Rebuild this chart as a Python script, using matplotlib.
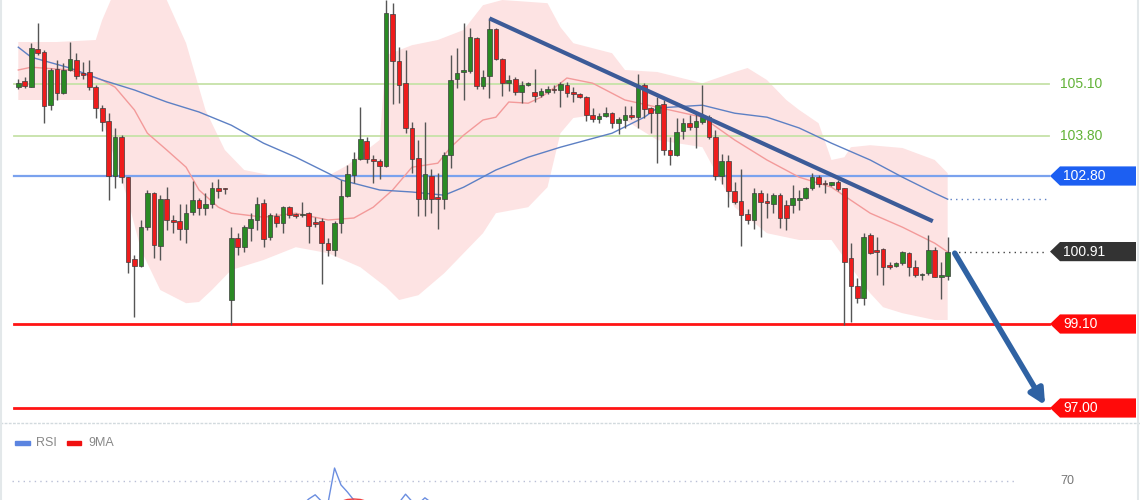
import matplotlib.pyplot as plt
import numpy as np
from matplotlib.lines import Line2D
from matplotlib.patches import Polygon, Rectangle
from matplotlib.transforms import blended_transform_factory

plt.rcParams['font.family'] = ['Liberation Sans', 'DejaVu Sans']

# candles, oldest first
opens = [105.03, 105.18, 105.03, 105.97, 105.91, 104.57, 105.47, 104.88, 105.45, 105.70,
         105.38, 105.41, 105.02, 104.49, 104.18, 102.80, 103.78, 102.77, 100.72, 100.55,
         101.53, 102.38, 101.05, 102.22, 101.70, 101.68, 101.47, 101.91, 102.20, 101.99,
         102.10, 102.49, 102.49, 99.70, 101.24, 101.03, 101.49, 101.70, 102.12, 101.27,
         101.80, 101.62, 102.02, 101.83, 101.82, 101.87, 101.66, 101.68, 101.12, 100.95,
         101.63, 102.30, 102.83, 103.22, 103.68, 103.20, 103.17, 103.05, 106.85, 105.68,
         105.12, 103.99, 103.24, 102.22, 102.80, 102.28, 102.22, 103.33, 105.22, 105.40,
         105.43, 106.24, 105.05, 105.30, 106.47, 105.72, 105.12, 105.22, 104.91, 105.07,
         104.91, 104.83, 104.91, 104.95, 104.95, 105.07, 104.87, 104.85, 104.78, 104.32,
         104.22, 104.30, 104.37, 104.12, 104.20, 104.33, 104.28, 105.07, 104.49, 104.38,
         104.60, 103.45, 103.33, 103.93, 104.13, 104.02, 104.16, 104.28, 103.78, 102.80,
         103.18, 102.43, 102.18, 101.85, 101.70, 102.38, 102.16, 102.10, 102.33, 102.08,
         102.08, 102.20, 102.24, 102.49, 102.78, 102.62, 102.58, 102.66, 102.49, 100.74,
         100.05, 99.74, 101.32, 100.93, 100.97, 100.57, 100.55, 100.62, 100.87, 100.52,
         100.32, 100.37, 100.95, 100.28, 100.30]
highs = [105.22, 105.27, 106.12, 106.63, 105.95, 105.49, 105.70, 105.62, 106.16, 105.87,
         105.66, 105.70, 105.07, 104.58, 104.37, 103.99, 103.82, 102.78, 100.82, 101.70,
         102.45, 102.41, 102.32, 102.53, 101.83, 102.10, 102.10, 102.67, 102.24, 102.38,
         102.66, 102.72, 102.50, 101.53, 101.37, 101.58, 101.87, 102.28, 102.22, 101.87,
         101.87, 102.05, 102.05, 101.88, 102.16, 101.91, 101.78, 101.74, 101.24, 101.68,
         102.70, 103.07, 103.41, 104.52, 103.78, 103.32, 103.22, 107.20, 107.12, 106.03,
         105.95, 104.16, 103.70, 104.16, 102.97, 102.87, 103.41, 105.83, 105.99, 106.62,
         106.49, 106.28, 105.45, 106.74, 106.49, 105.74, 105.33, 105.27, 105.18, 105.16,
         105.47, 104.99, 105.05, 105.07, 105.16, 105.16, 105.02, 104.87, 104.80, 104.49,
         104.37, 104.52, 104.41, 104.27, 104.55, 104.55, 105.35, 105.12, 104.53, 104.78,
         104.70, 103.78, 104.24, 104.24, 104.32, 104.37, 105.07, 104.32, 103.95, 103.35,
         103.33, 102.66, 102.97, 101.97, 102.49, 102.45, 102.37, 102.38, 102.37, 102.20,
         102.58, 102.45, 102.53, 102.88, 102.83, 102.70, 102.66, 102.70, 102.49, 101.12,
         100.24, 101.37, 101.37, 101.27, 100.99, 100.66, 100.66, 100.93, 100.91, 100.70,
         100.38, 101.32, 101.03, 100.66, 101.27]
lows = [104.97, 104.99, 105.02, 105.82, 104.12, 104.45, 104.70, 104.85, 105.43, 105.22,
        105.22, 104.95, 104.24, 103.93, 102.20, 102.49, 102.63, 100.38, 99.28, 100.53,
        101.45, 100.74, 100.70, 101.45, 101.37, 101.20, 101.13, 101.83, 101.83, 101.83,
        101.99, 102.24, 102.35, 99.08, 100.82, 100.91, 101.18, 101.45, 101.03, 101.20,
        101.53, 101.37, 101.74, 101.74, 101.78, 101.12, 101.53, 100.10, 100.80, 100.80,
        101.37, 102.28, 102.62, 103.20, 103.12, 102.62, 102.72, 103.03, 104.60, 104.62,
        103.87, 102.88, 101.80, 101.80, 101.87, 101.47, 101.97, 102.99, 104.99, 104.70,
        105.37, 104.97, 104.97, 104.74, 105.70, 104.80, 104.93, 104.82, 104.62, 105.05,
        104.66, 104.78, 104.85, 104.87, 104.52, 104.78, 104.66, 104.74, 104.18, 104.16,
        104.13, 104.28, 103.99, 103.85, 103.99, 104.22, 103.99, 104.24, 103.87, 103.13,
        103.33, 103.08, 103.30, 103.72, 103.95, 103.49, 104.10, 103.72, 102.70, 102.60,
        102.03, 102.10, 101.05, 101.60, 101.47, 101.27, 101.74, 101.87, 101.50, 101.45,
        101.87, 101.95, 102.22, 102.45, 102.52, 102.37, 102.55, 102.43, 99.08, 99.16,
        99.62, 99.57, 100.85, 100.33, 100.07, 100.47, 100.53, 100.57, 100.30, 100.28,
        100.20, 100.32, 100.28, 99.72, 100.20]
closes = [105.13, 105.05, 105.99, 105.87, 104.55, 105.45, 104.88, 105.45, 105.72, 105.30,
          105.33, 105.03, 104.49, 104.16, 102.80, 103.77, 102.78, 100.66, 100.55, 101.53,
          102.38, 101.07, 102.22, 101.70, 101.66, 101.47, 101.88, 102.20, 101.99, 102.10,
          102.49, 102.42, 102.47, 101.24, 101.03, 101.52, 101.72, 102.10, 101.22, 101.82,
          101.63, 102.03, 101.83, 101.80, 101.86, 101.55, 101.60, 101.12, 100.95, 101.63,
          102.30, 102.85, 103.22, 103.72, 103.22, 103.18, 103.05, 106.87, 105.68, 105.07,
          103.99, 103.22, 102.22, 102.85, 102.22, 102.22, 103.33, 105.20, 105.37, 105.45,
          106.27, 105.05, 105.28, 106.47, 105.72, 105.13, 105.20, 104.91, 105.07, 105.12,
          104.80, 104.93, 104.97, 104.94, 105.10, 104.88, 104.85, 104.78, 104.32, 104.22,
          104.30, 104.38, 104.12, 104.22, 104.32, 104.27, 105.05, 104.47, 104.38, 104.57,
          103.45, 103.33, 103.91, 104.13, 104.02, 104.18, 104.27, 103.77, 102.80, 103.18,
          102.43, 102.16, 101.83, 101.70, 102.38, 102.16, 102.13, 102.33, 101.74, 101.74,
          102.24, 102.24, 102.49, 102.78, 102.60, 102.59, 102.66, 102.47, 100.66, 100.05,
          99.74, 101.27, 100.88, 100.90, 100.53, 100.53, 100.62, 100.89, 100.53, 100.32,
          100.36, 100.95, 100.28, 100.30, 100.91]

# bollinger bands and moving averages, read at sampled candles
upper_idx = [0, 6, 12, 13, 15, 17, 20, 23, 26, 29, 32, 35, 39, 44, 48, 51, 54, 56, 57,
             61, 65, 69, 72, 75, 82, 84, 86, 92, 94, 99, 106, 111, 113, 116, 119, 121,
             124, 126, 128, 129, 132, 137, 142, 144]
upper_val = [106.15, 106.15, 106.20, 106.70, 107.45, 107.95, 107.70, 107.20, 106.12,
             104.45, 103.45, 102.95, 102.82, 102.80, 102.80, 103.07, 103.45, 103.70,
             105.82, 106.07, 106.20, 106.45, 107.07, 107.20, 107.12, 106.52, 106.12,
             105.87, 105.45, 105.40, 105.12, 105.40, 105.50, 105.20, 104.70, 104.45,
             104.12, 103.20, 103.27, 103.52, 103.57, 103.50, 103.20, 102.87]
lower_idx = [0, 6, 12, 14, 17, 19, 22, 26, 28, 30, 33, 38, 43, 48, 53, 57, 59, 62, 66,
             69, 72, 74, 79, 82, 84, 86, 89, 94, 99, 106, 111, 116, 121, 126, 129, 132,
             134, 137, 142, 144]
lower_val = [104.70, 104.70, 104.70, 103.70, 102.20, 100.95, 99.95, 99.62, 99.65, 99.95,
             100.45, 100.70, 101.02, 100.87, 100.52, 100.02, 99.70, 99.82, 100.37, 100.87,
             101.37, 101.87, 102.02, 102.52, 103.87, 104.25, 104.32, 104.20, 103.70,
             103.52, 102.02, 101.37, 101.20, 101.20, 100.52, 99.87, 99.52, 99.37, 99.20,
             99.20]
ma_fast_idx = [0, 2, 8, 13, 15, 18, 20, 23, 26, 28, 31, 33, 38, 43, 48, 52, 55, 58, 61,
               65, 67, 69, 72, 74, 76, 79, 81, 84, 85, 89, 94, 99, 106, 111, 116, 121,
               126, 132, 137, 142, 144]
ma_fast_val = [105.45, 105.52, 105.45, 105.20, 105.02, 104.45, 103.87, 103.45, 103.02,
               102.45, 102.02, 101.87, 101.77, 101.87, 101.70, 101.75, 102.02, 102.45,
               103.02, 103.12, 103.52, 103.82, 104.20, 104.27, 104.65, 104.62, 104.77,
               105.12, 105.25, 105.12, 104.70, 104.52, 104.27, 103.70, 103.20, 102.77,
               102.52, 101.87, 101.52, 101.12, 100.90]
ma_slow_idx = [0, 2, 8, 13, 18, 23, 28, 33, 38, 43, 48, 50, 56, 61, 66, 69, 74, 79, 84,
               92, 97, 99, 106, 111, 116, 121, 126, 132, 137, 142, 144]
ma_slow_val = [106.02, 105.77, 105.50, 105.20, 104.95, 104.65, 104.40, 104.07, 103.62,
               103.27, 102.87, 102.70, 102.45, 102.40, 102.32, 102.52, 102.95, 103.27,
               103.52, 103.87, 104.27, 104.50, 104.57, 104.37, 104.27, 104.00, 103.62,
               103.20, 102.77, 102.37, 102.22]

# RSI panel (only the top is in view)
rsi_idx = [40, 44, 45, 46, 47, 48, 49, 50, 51, 52, 55, 59, 60, 61, 62, 63, 64, 68]
rsi_val = [45, 50, 55, 58.5, 53, 52, 80.8, 66.7, 60.8, 54, 48, 52, 59, 53, 51, 56, 52, 47]
rsi_ma_idx = [47, 49, 50, 51, 52, 53, 54, 56]
rsi_ma_val = [50, 51, 53, 54.6, 55, 54.6, 53, 51]

levels = [105.10, 103.80, 102.80, 99.10, 97.00]
level_labels = ['105.10', '103.80', '102.80', '99.10', '97.00']
last_price = 100.91
trend_start = (73, 106.74)
trend_end = (141.7, 101.67)
arrow_start = (145.1, 100.87)
arrow_end = (159.1, 97.07)

fig = plt.figure(figsize=(11.4, 5), dpi=100)
fig.patch.set_facecolor('white')
ax = fig.add_axes([0, 80 / 500, 1, 420 / 500])
ax_rsi = fig.add_axes([0, 0, 1, 77 / 500])
for a in (ax, ax_rsi):
    a.set_xlim(-2.835, 173.8)
    a.axis('off')
ax.set_ylim(96.7, 107.2)
ax_rsi.set_ylim(54.17, 118.3)

n = len(closes)
x = np.arange(n)

# bollinger fill
band_x = np.r_[upper_idx, lower_idx[::-1]]
band_y = np.r_[upper_val, lower_val[::-1]]
ax.fill(band_x, band_y, color='#fde3e3', lw=0, zorder=1)

mixed = blended_transform_factory(ax.transAxes, ax.transData)
line_end = 1049 / 1140
line_start = 14 / 1140
ax.axhline(levels[0], line_start, line_end, color='#c6e2a8', lw=1.3, zorder=2)
ax.axhline(levels[1], line_start, line_end, color='#c6e2a8', lw=1.3, zorder=2)
ax.axhline(levels[2], line_start, line_end, color='#7aa2ee', lw=1.6, zorder=2)
ax.axhline(levels[3], line_start, line_end, color='#ff1414', lw=2, zorder=2)
ax.axhline(levels[4], line_start, line_end, color='#ff1414', lw=2, zorder=2)

ax.plot(ma_fast_idx, ma_fast_val, color='#f39a9a', lw=1, zorder=3)
ax.plot(ma_slow_idx, ma_slow_val, color='#5d80c4', lw=1, zorder=3)
ax.plot([ma_slow_idx[-1] + 0.3, 159.2], [ma_slow_val[-1]] * 2, color='#5d80c4',
        lw=1, ls=(0, (1, 3)), zorder=3)
ax.plot([n - 1 + 0.8, 159.2], [last_price] * 2, color='#444444', lw=1,
        ls=(0, (1, 3)), zorder=3)

# candles
op = np.array(opens)
cl = np.array(closes)
up = cl >= op
ax.vlines(x, lows, highs, color='#555555', lw=1, zorder=4)
body_lo = np.minimum(op, cl)
body_h = np.maximum(np.abs(cl - op), 0.04)
ax.bar(x[up], body_h[up], bottom=body_lo[up], width=0.72, color='#2a8a24',
       edgecolor='#3d3d3d', lw=0.5, zorder=5)
ax.bar(x[~up], body_h[~up], bottom=body_lo[~up], width=0.72, color='#ee1c1c',
       edgecolor='#3d3d3d', lw=0.5, zorder=5)

# trendline and projection arrow
ax.plot([trend_start[0], trend_end[0]], [trend_start[1], trend_end[1]],
        color='#3c5b98', lw=3, solid_capstyle='butt', zorder=6)
ax.annotate('', xy=arrow_end, xytext=arrow_start, zorder=6,
            arrowprops=dict(arrowstyle='-|>,head_length=0.9,head_width=0.45',
                            color='#2f62a3', lw=4, shrinkA=0, shrinkB=0))

# price labels
ax.text(1060 / 1140, levels[0], level_labels[0], transform=mixed, color='#62b237',
        fontsize=10, va='center', zorder=7)
ax.text(1060 / 1140, levels[1], level_labels[1], transform=mixed, color='#62b237',
        fontsize=10, va='center', zorder=7)


def tag(price, text, color):
    tip = 1050 / 1140
    left = 1060 / 1140
    right = 1136 / 1140
    h = 0.24
    pts = [(tip, price), (left, price + h), (right, price + h),
           (right, price - h), (left, price - h)]
    ax.add_patch(Polygon(pts, closed=True, transform=mixed, facecolor=color,
                         edgecolor='none', zorder=7))
    ax.text(1063 / 1140, price, text, transform=mixed, color='white',
            fontsize=10, va='center', zorder=8)


tag(levels[2], level_labels[2], '#1c5ff2')
tag(last_price, f'{last_price:.2f}', '#333333')
tag(levels[3], level_labels[3], '#ff0a0a')
tag(levels[4], level_labels[4], '#ff0a0a')

# RSI panel
ax_rsi.plot([0, 1], [1, 1], transform=ax_rsi.transAxes, color='#d2dade', lw=1,
            ls=(0, (2, 1)), clip_on=False)
ax_rsi.plot([-1, 154.4], [70, 70], color='#b9bfd6', lw=1, ls=(0, (1, 3)))
ax_rsi.text(1060 / 1140, 70, '70', transform=blended_transform_factory(
    ax_rsi.transAxes, ax_rsi.transData), color='#777777', fontsize=9, va='center')
ax_rsi.plot(rsi_idx, rsi_val, color='#6b8ee0', lw=1)
ax_rsi.plot(rsi_ma_idx, rsi_ma_val, color='#f04040', lw=1)

leg_y = 1 - 20 / 77
ax_rsi.add_patch(Rectangle((15 / 1140, leg_y - 0.03), 15 / 1140, 0.06,
                           transform=ax_rsi.transAxes, color='#5b84e0'))
ax_rsi.text(36 / 1140, leg_y, 'RSI', transform=ax_rsi.transAxes, color='#888888',
            fontsize=9, va='center')
ax_rsi.add_patch(Rectangle((67 / 1140, leg_y - 0.03), 14 / 1140, 0.06,
                           transform=ax_rsi.transAxes, color='#f01010'))
ax_rsi.text(88 / 1140, leg_y, '9MA', transform=ax_rsi.transAxes, color='#888888',
            fontsize=9, va='center')

# faint frame at the sides
fig.add_artist(Line2D([0.001, 0.001], [0, 1], color='#e3e8ea', lw=1.5))
fig.add_artist(Line2D([0.998, 0.998], [0, 1], color='#e3e8ea', lw=1.5))

fig.savefig('out.png', dpi=100)
